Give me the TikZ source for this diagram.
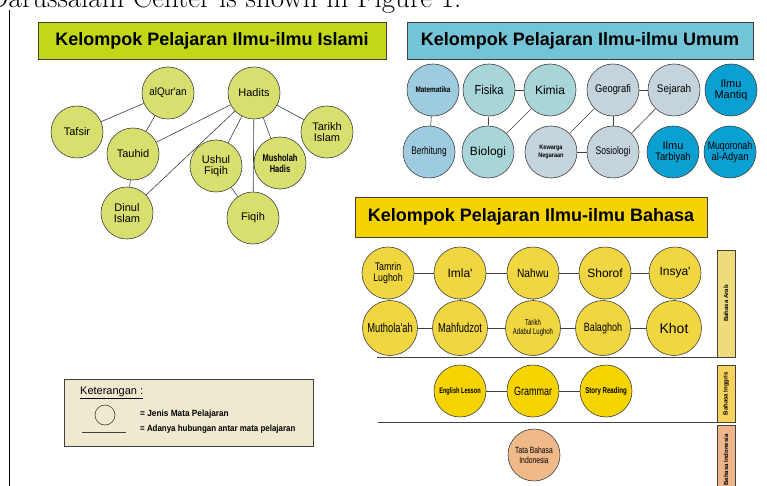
\documentclass[tikz,border=0pt]{standalone}
\usepackage{fontspec}
\newfontfamily\arial{Liberation Sans}
\newcommand{\cz}[2][0.8]{\scalebox{#1}[1]{#2}}
\definecolor{islamiTitle}{HTML}{C2D816}
\definecolor{islamiNode}{HTML}{D7E06E}
\definecolor{umumTitle}{HTML}{74C4D8}
\definecolor{matNode}{HTML}{9FCBE0}
\definecolor{fisNode}{HTML}{A8D5D8}
\definecolor{geoNode}{HTML}{C5D3DC}
\definecolor{mantiqNode}{HTML}{0BA0D2}
\definecolor{bahasaTitle}{HTML}{F5D300}
\definecolor{arabNode}{HTML}{F0D640}
\definecolor{inggrisNode}{HTML}{F5D400}
\definecolor{arabBar}{HTML}{EEDC7C}
\definecolor{inggrisBar}{HTML}{F7D25C}
\definecolor{indoBar}{HTML}{EDB589}
\definecolor{indoNode}{HTML}{F0B98A}
\definecolor{legendFill}{HTML}{EFE9D0}
\definecolor{edgeCol}{HTML}{404040}
\begin{document}
\begin{tikzpicture}[x=1pt,y=-1pt,
  titlebox/.style={draw=edgeCol,line width=0.8pt,minimum height=37pt,inner sep=0pt,font=\arial\bfseries\fontsize{18}{20}\selectfont},
  subj/.style={circle,draw=edgeCol,line width=0.6pt,minimum size=52pt,inner sep=0pt,align=center,font=\arial\fontsize{11}{11.5}\selectfont},
  subjb/.style={subj,minimum size=55pt},
  link/.style={draw=edgeCol,line width=0.6pt},
  sep/.style={draw=edgeCol,line width=0.9pt},
  bar/.style={draw=edgeCol,line width=0.8pt,minimum width=18pt,inner sep=0pt},
  bartext/.style={rotate=90,font=\arial\bfseries\fontsize{6}{6}\selectfont},
  tiny/.style={font=\arial\bfseries\fontsize{8}{8}\selectfont},
  legtext/.style={anchor=west,inner sep=0pt,font=\arial\bfseries\fontsize{9}{9}\selectfont}
]
\useasboundingbox (0,0) rectangle (767,486);
\begin{scope}
\clip (0,0) rectangle (767,486);
\node[anchor=base west,inner sep=0pt,font=\fontsize{29}{31}\selectfont] (toptext) at (-12,8) {Darussalam Center is shown in Figure 1.};
\end{scope}
\coordinate (vtop) at (9,10);
\coordinate (vbot) at (9,486);
\draw[line width=0.9pt] (vtop) -- (vbot);

% titles
\node[titlebox,fill=islamiTitle,minimum width=348pt] (tIslami) at (212,40.5) {Kelompok Pelajaran Ilmu-ilmu Islami};
\node[titlebox,fill=umumTitle,minimum width=346pt] (tUmum) at (580,40.5) {Kelompok Pelajaran Ilmu-ilmu Umum};
\node[titlebox,fill=bahasaTitle,minimum width=352pt,minimum height=40pt] (tBahasa) at (531,217) {Kelompok Pelajaran Ilmu-ilmu Bahasa};

% Islami
\begin{scope}[every node/.append style={fill=islamiNode}]
\node[subj] (quran) at (168,93) {\cz[0.9]{alQur'an}};
\node[subj] (hadits) at (254,93) {Hadits};
\node[subj] (tafsir) at (77,132) {Tafsir};
\node[subj] (tauhid) at (133,154) {Tauhid};
\node[subj] (tarikh) at (327,132) {Tarikh\\Islam};
\node[subj] (ushul) at (216,166) {Ushul\\Fiqih};
\node[subj,font=\arial\fontsize{10}{11}\selectfont] (musholah) at (280,163) {\cz[0.75]{\bfseries Musholah}\\\cz[0.75]{\bfseries Hadis}};
\node[subj] (dinul) at (127,213) {Dinul\\Islam};
\node[subj] (fiqih) at (253,218) {Fiqih};
\end{scope}
\draw[link] (quran) -- (tafsir);
\draw[link] (quran) -- (tauhid);
\draw[link] (hadits) -- (tauhid);
\draw[link] (hadits) -- (dinul);
\draw[link] (hadits) -- (ushul);
\draw[link] (hadits) -- (fiqih);
\draw[link] (hadits) -- (musholah);
\draw[link] (hadits) -- (tarikh);
\draw[link] (tauhid) -- (dinul);
\draw[link] (ushul) -- (fiqih);

% Umum
\node[subj,fill=matNode,tiny] (mat) at (433,90) {\cz[0.8]{Matematika}};
\node[subj,fill=fisNode,font=\arial\fontsize{13}{13}\selectfont] (fis) at (489,90) {\cz[0.85]{Fisika}};
\node[subj,fill=fisNode,font=\arial\fontsize{12}{12}\selectfont] (kim) at (550,90) {Kimia};
\node[subj,fill=geoNode] (geo) at (613,90) {\cz[0.85]{Geografi}};
\node[subj,fill=geoNode] (sej) at (674,90) {\cz[0.9]{Sejarah}};
\node[subj,fill=mantiqNode] (mantiq) at (731,90) {Ilmu\\Mantiq};
\node[subj,fill=matNode] (ber) at (429,152) {\cz[0.75]{Berhitung}};
\node[subj,fill=fisNode,font=\arial\fontsize{12}{12}\selectfont] (bio) at (488,152) {Biologi};
\node[subj,fill=geoNode,font=\arial\bfseries\fontsize{6.5}{8.5}\selectfont] (kew) at (551,152) {\cz[0.85]{Kewarga}\\\cz[0.85]{Negaraan}};
\node[subj,fill=geoNode] (sos) at (613,152) {\cz[0.78]{Sosiologi}};
\node[subj,fill=mantiqNode] (tarb) at (673,152) {Ilmu\\\cz[0.85]{Tarbiyah}};
\node[subj,fill=mantiqNode] (muq) at (730,152) {\cz[0.8]{Muqoronah}\\\cz[0.85]{al-Adyan}};
\draw[link] (mat) -- (ber);
\draw[link] (fis) -- (kim);
\draw[link] (fis) -- (bio);
\draw[link] (kim) -- (bio);
\draw[link] (geo) -- (sej);
\draw[link] (geo) -- (kew);
\draw[link] (geo) -- (sos);
\draw[link] (sej) -- (sos);
\draw[link] (kew) -- (sos);

% Bahasa Arab
\begin{scope}[every node/.append style={fill=arabNode}]
\node[subj,font=\arial\fontsize{11}{11.5}\selectfont] (tamrin) at (388,273) {\cz[0.8]{Tamrin}\\\cz[0.8]{Lughoh}};
\node[subj,font=\arial\fontsize{12}{12}\selectfont] (imla) at (460,273) {Imla'};
\node[subj,font=\arial\fontsize{12}{12}\selectfont] (nahwu) at (533,273) {\cz[0.85]{Nahwu}};
\node[subj,font=\arial\fontsize{12}{12}\selectfont] (shorof) at (605,273) {Shorof};
\node[subj,font=\arial\fontsize{12}{12}\selectfont] (insya) at (675,273) {Insya'};
\node[subjb,font=\arial\fontsize{13}{13}\selectfont] (muth) at (390,328) {\cz[0.72]{Muthola'ah}};
\node[subjb,font=\arial\fontsize{13}{13}\selectfont] (mahf) at (460,328) {\cz[0.72]{Mahfudzot}};
\node[subjb,font=\arial\fontsize{8.5}{9.5}\selectfont] (tadab) at (533,328) {\cz[0.7]{Tarikh}\\\cz[0.7]{Adabul Lughoh}};
\node[subjb,font=\arial\fontsize{12}{12}\selectfont] (bala) at (603,328) {\cz[0.75]{Balaghoh}};
\node[subjb,font=\arial\fontsize{14}{14}\selectfont] (khot) at (674,328) {Khot};
\end{scope}
\draw[link] (tamrin) -- (imla);
\draw[link] (imla) -- (nahwu);
\draw[link] (nahwu) -- (shorof);
\draw[link] (shorof) -- (insya);
\draw[link] (muth) -- (mahf);
\draw[link] (mahf) -- (tadab);
\draw[link] (tadab) -- (bala);
\draw[link] (bala) -- (khot);
\draw[link] (tamrin) -- (muth);
\draw[link] (imla) -- (mahf);
\draw[link] (nahwu) -- (tadab);
\draw[link] (shorof) -- (bala);
\draw[link] (insya) -- (khot);

% separators
\coordinate (s1a) at (377,357);
\coordinate (s1b) at (717,357);
\coordinate (s2a) at (378,422);
\coordinate (s2b) at (717,422);
\draw[sep] (s1a) -- (s1b);
\draw[sep] (s2a) -- (s2b);

% bars
\node[bar,fill=arabBar,minimum height=107pt] (barArab) at (726,303.5) {};
\node[bartext] at (barArab) {Bahasa Arab};
\node[bar,fill=inggrisBar,minimum height=57pt] (barIng) at (726,393.5) {};
\node[bartext] at (barIng) {Bahasa Inggris};
\node[bar,fill=indoBar,minimum height=70pt] (barIndo) at (726,460) {};
\node[bartext] at (barIndo) {Bahasa Indonesia};

% Bahasa Inggris
\begin{scope}[every node/.append style={fill=inggrisNode}]
\node[subj,tiny] (eng) at (460,391) {\cz[0.7]{English Lesson}};
\node[subj,font=\arial\fontsize{12}{12}\selectfont] (gram) at (533,391) {\cz[0.75]{Grammar}};
\node[subj,font=\arial\bfseries\fontsize{8.5}{8.5}\selectfont] (story) at (606,391) {\cz[0.72]{Story Reading}};
\end{scope}
\draw[link] (eng) -- (gram);
\draw[link] (gram) -- (story);

% Bahasa Indonesia
\node[subj,fill=indoNode,font=\arial\fontsize{9}{10}\selectfont] (tata) at (534,455) {\cz[0.75]{Tata Bahasa}\\\cz[0.75]{Indonesia}};

% legend
\node[draw=edgeCol,line width=0.8pt,fill=legendFill,minimum width=249pt,minimum height=67pt,inner sep=0pt] (legend) at (188.5,412.5) {};
\node[anchor=west,inner sep=0pt,font=\arial\fontsize{11}{11}\selectfont] (ket) at (80,393) {\underline{Keterangan :}};
\node[circle,draw=edgeCol,line width=0.6pt,minimum size=20pt,inner sep=0pt] (lcirc) at (105,415) {};
\coordinate (lla) at (82,432);
\coordinate (llb) at (126,432);
\draw[link,line width=0.8pt] (lla) -- (llb);
\node[legtext] (lt1) at (140,414) {\cz[0.92]{= Jenis Mata Pelajaran}};
\node[legtext] (lt2) at (140,429) {\cz[0.88]{= Adanya hubungan antar mata pelajaran}};
\end{tikzpicture}
\end{document}
